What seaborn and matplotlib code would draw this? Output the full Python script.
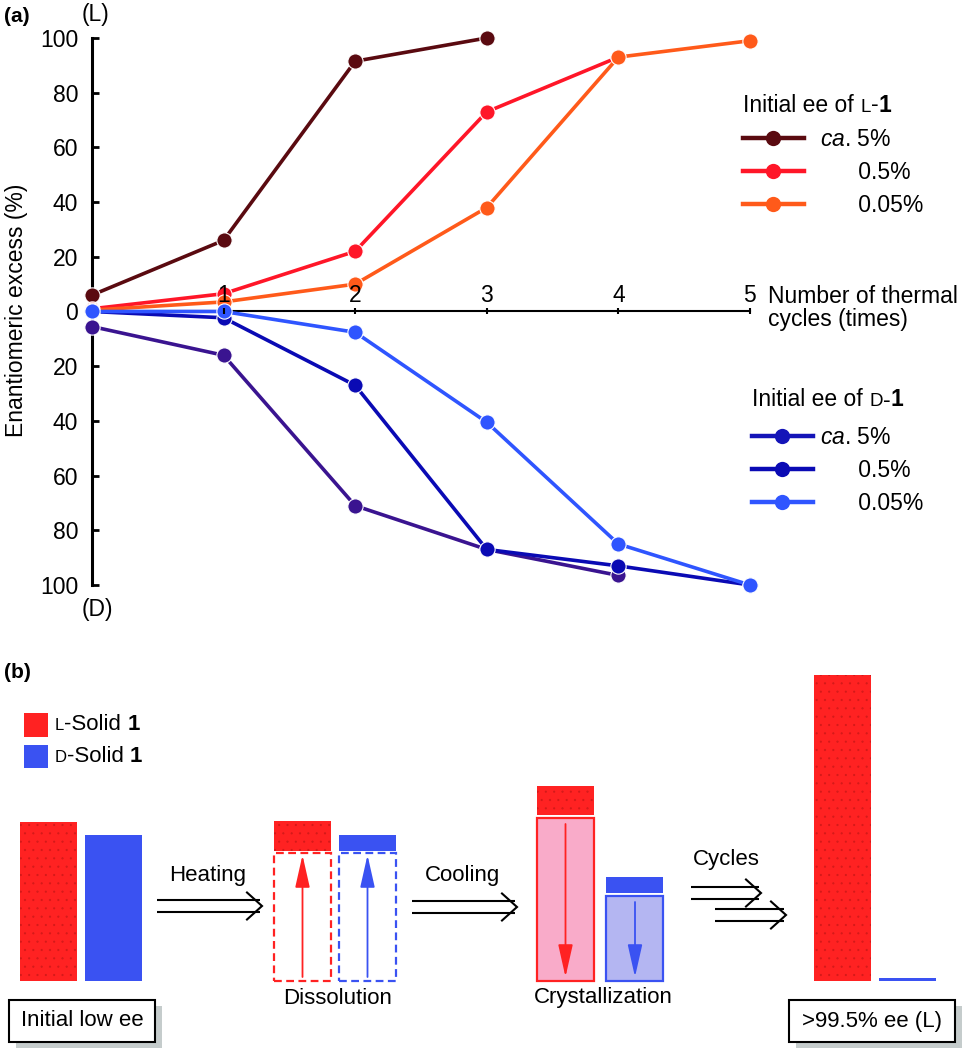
import matplotlib
matplotlib.use("Agg")
import matplotlib.pyplot as plt
import seaborn as sns
import pandas as pd
from matplotlib.lines import Line2D
from matplotlib.patches import Rectangle
from matplotlib.offsetbox import TextArea, HPacker, AnnotationBbox, DrawingArea
from matplotlib.transforms import IdentityTransform

# ---------------- data: panel (a) ----------------
cycles = [0, 1, 2, 3, 4, 5]
ee_L_ca5 = [6, 26, 91.5, 100]
ee_L_05 = [1, 6.5, 22, 73, 93]
ee_L_005 = [0.5, 3.5, 10, 38, 93, 99]
ee_D_ca5 = [-5.5, -16, -71, -87, -96.5]
ee_D_05 = [0, -2.3, -27, -87, -93, -100]
ee_D_005 = [0, 0, -7.6, -40.5, -85, -100]
series_names = ["L ca. 5%", "L 0.5%", "L 0.05%", "D ca. 5%", "D 0.5%", "D 0.05%"]
series_values = [ee_L_ca5, ee_L_05, ee_L_005, ee_D_ca5, ee_D_05, ee_D_005]
x_ticks = [1, 2, 3, 4, 5]
y_ticks = [-100, -80, -60, -40, -20, 0, 20, 40, 60, 80, 100]
y_tick_labels = ["100", "80", "60", "40", "20", "0", "20", "40", "60", "80", "100"]
legend_labels = [r"$\mathit{ca}$. 5%", "      0.5%", "      0.05%"]

# ---------------- data: panel (b) schematic amounts (L, D) ----------------
solid_initial = [159, 146]
solid_after_heating = [30, 16]
dissolved = [128, 128]
crystallized = [163, 85]
solid_after_cooling = [29, 16]
solid_final = [306, 3]

# ---------------- styles ----------------
plt.rcParams["font.family"] = ["Liberation Sans", "DejaVu Sans"]
plt.rcParams["mathtext.fontset"] = "custom"
plt.rcParams["mathtext.rm"] = "Liberation Sans"
plt.rcParams["mathtext.it"] = "Liberation Sans:italic"
plt.rcParams["mathtext.bf"] = "Liberation Sans:bold"
plt.rcParams["hatch.linewidth"] = 0.4

plot_colors = {
    "L ca. 5%": "#5a0a10",
    "L 0.5%": "#ff1628",
    "L 0.05%": "#ff5a1a",
    "D ca. 5%": "#3a1490",
    "D 0.5%": "#0a0ab4",
    "D 0.05%": "#2f55ff",
}
legend_colors_L = ["#5a0a10", "#ff1628", "#ff5a1a"]
legend_colors_D = ["#1414b8", "#0a0ab4", "#2f55ff"]

RED = "#ff2222"
BLUE = "#3a52f2"
PINK = "#f9abc9"
LAV = "#b4b6f2"

FS = 16.5

fig = plt.figure(figsize=(9.7, 10.52), dpi=100)
fig.patch.set_facecolor("white")

df = pd.concat(
    [pd.DataFrame({"series": n, "cycle": cycles[: len(v)], "ee": v})
     for n, v in zip(series_names, series_values)],
    ignore_index=True,
)

# ---------------- panel (a) ----------------
ax = fig.add_axes([65.68 / 970, 1 - 595.94 / 1052, 710.6 / 970, 568.9 / 1052])
ax.set_facecolor("none")
for i, name in enumerate(series_names):
    sub = df[df["series"] == name]
    sns.lineplot(data=sub, x="cycle", y="ee", ax=ax, color=plot_colors[name],
                 marker="o", markersize=11, linewidth=2.6,
                 markeredgecolor="white", markeredgewidth=0.8,
                 clip_on=False, zorder=3 + i, legend=False,
                 estimator=None, sort=False)

ax.set_xlim(-0.2, 5.2)
ax.set_ylim(-104, 104)
for s in ["top", "right"]:
    ax.spines[s].set_visible(False)
ax.spines["left"].set_position(("data", 0))
ax.spines["left"].set_bounds(-100, 100)
ax.spines["left"].set_linewidth(2.2)
ax.spines["bottom"].set_position(("data", 0))
ax.spines["bottom"].set_bounds(0, 5)
ax.spines["bottom"].set_linewidth(1.5)
ax.set_xticks(x_ticks)
ax.set_xticklabels([str(t) for t in x_ticks])
ax.set_yticks(y_ticks)
ax.set_yticklabels(y_tick_labels)
ax.tick_params(axis="x", direction="inout", length=5, width=1.5, pad=-22.5,
               labelsize=FS, colors="black", bottom=True)
ax.tick_params(axis="y", direction="in", length=5, width=2, pad=10,
               labelsize=FS, colors="black", left=True)
ax.xaxis.set_zorder(20)
ax.set_ylabel("")
ax.set_xlabel("Number of thermal\ncycles (times)", fontsize=FS, ha="left",
              va="center", linespacing=0.95, color="black")
ax.xaxis.set_label_coords((768 - 65.68) / 710.6, (595.94 - 308) / 568.9)

fig.text(17 / 970, 1 - 310 / 1052, "Enantiomeric excess (%)", rotation=90,
         ha="center", va="center", fontsize=FS, color="black")
fig.text(4 / 970, 1 - 17 / 1052, "(a)", fontsize=15, fontweight="bold",
         ha="left", va="center")
ax.text(0.03, 108.5, "(L)", ha="center", va="center", fontsize=FS, clip_on=False)
ax.text(0.04, -109, "(D)", ha="center", va="center", fontsize=FS, clip_on=False)


def mixed_text(parts, xy, xycoords, artist_parent):
    children = []
    for p in parts:
        if isinstance(p, (int, float)):
            children.append(DrawingArea(p, 1, 0, 0))
        else:
            s, fs, w = p
            children.append(TextArea(s, textprops=dict(fontsize=fs, fontweight=w,
                                                        color="black")))
    box = HPacker(children=children, align="baseline", pad=0, sep=0)
    ab = AnnotationBbox(box, xy, xycoords=xycoords, box_alignment=(0, 0.5),
                        frameon=False, pad=0, annotation_clip=False)
    artist_parent.add_artist(ab)
    return ab


# legends
def make_handles(colors):
    return [Line2D([], [], color=c, lw=3.2, marker="o", markersize=11,
                   markeredgewidth=0) for c in colors]


leg1 = ax.legend(handles=make_handles(legend_colors_L), labels=legend_labels,
                 loc="center left", bbox_to_anchor=(743, 1052 - 172.5),
                 bbox_transform=IdentityTransform(), frameon=False,
                 borderpad=0, borderaxespad=0, handlelength=2.66,
                 handletextpad=0.7, labelspacing=0.42, fontsize=FS)
ax.add_artist(leg1)
leg2 = ax.legend(handles=make_handles(legend_colors_D), labels=legend_labels,
                 loc="center left", bbox_to_anchor=(752, 1052 - 470.5),
                 bbox_transform=IdentityTransform(), frameon=False,
                 borderpad=0, borderaxespad=0, handlelength=2.66,
                 handletextpad=0.3, labelspacing=0.42, fontsize=FS)

mixed_text([("Initial ee of", FS, "normal"), 4.6, ("L", 13.5, "normal"),
            ("-", FS, "normal"), ("1", FS, "bold")],
           (743, 1052 - 105), "figure pixels", fig)
mixed_text([("Initial ee of", FS, "normal"), 4.6, ("D", 13.5, "normal"),
            ("-", FS, "normal"), ("1", FS, "bold")],
           (752, 1052 - 400), "figure pixels", fig)

# ---------------- panel (b) ----------------
axb = fig.add_axes([0, 0, 1, 412 / 1052])
axb.set_xlim(0, 970)
axb.set_ylim(-71, 341)
axb.axis("off")
FSB = 16

W = 57
x_initial = [48.5, 113.5]
x_diss = [302.5, 367.5]
x_cryst = [565.5, 635]
x_final = [842.5, 907.5]
GAP = 2


def textured(xs, heights, bottoms=None):
    # faint speckle texture of the red solid
    axb.bar(xs[0], heights[0], width=W, bottom=0 if bottoms is None else bottoms[0],
            fill=False, hatch="..", edgecolor=(0.35, 0.0, 0.0, 0.2), linewidth=0,
            zorder=2.5)


# initial
axb.bar(x_initial, solid_initial, width=W, color=[RED, BLUE], linewidth=0, zorder=2)
textured(x_initial, solid_initial)

# dissolution
axb.bar(x_diss, dissolved, width=W, fill=False, edgecolor=[RED, BLUE],
        linestyle=(0, (3.5, 2)), linewidth=1.6, zorder=2)
bott = [d + GAP for d in dissolved]
axb.bar(x_diss, solid_after_heating, width=W, bottom=bott, color=[RED, BLUE],
        linewidth=0, zorder=2)
textured(x_diss, solid_after_heating, bott)
for x, d, c in zip(x_diss, dissolved, [RED, BLUE]):
    axb.annotate("", xy=(x, d - 2), xytext=(x, 4),
                 arrowprops=dict(arrowstyle="-|>,head_length=2.0,head_width=0.45",
                                 mutation_scale=10, color=c, lw=1.3,
                                 shrinkA=0, shrinkB=0), zorder=3)

# crystallization
axb.bar(x_cryst, crystallized, width=W, color=[PINK, LAV], edgecolor=[RED, BLUE],
        linewidth=1.6, zorder=2)
bott = [d + GAP + 1 for d in crystallized]
axb.bar(x_cryst, solid_after_cooling, width=W, bottom=bott, color=[RED, BLUE],
        linewidth=0, zorder=2)
textured(x_cryst, solid_after_cooling, bott)
for x, d, c in zip(x_cryst, crystallized, [RED, BLUE]):
    axb.annotate("", xy=(x, 4), xytext=(x, d - 6),
                 arrowprops=dict(arrowstyle="-|>,head_length=2.0,head_width=0.45",
                                 mutation_scale=10, color=c, lw=1.3,
                                 shrinkA=0, shrinkB=0), zorder=3)

# final
axb.bar(x_final, solid_final, width=W, color=[RED, BLUE], linewidth=0, zorder=2)
textured(x_final, solid_final)


def double_arrow(x0, x1, yc):
    for dy in (6, -6):
        axb.plot([x0, x1 - 2], [yc + dy, yc + dy], color="black", lw=1.5,
                 solid_capstyle="butt")
    axb.plot([x1 - 15, x1, x1 - 15], [yc + 13.5, yc, yc - 13.5], color="black",
             lw=1.5, solid_joinstyle="miter")


double_arrow(157, 262, 75)
double_arrow(412, 517, 74)
double_arrow(691, 761, 88)
double_arrow(715, 786, 66)

axb.text(208, 106, "Heating", ha="center", va="center", fontsize=FSB)
axb.text(463, 106, "Cooling", ha="center", va="center", fontsize=FSB)
axb.text(726, 121, "Cycles", ha="center", va="center", fontsize=FSB)
axb.text(338, -17, "Dissolution", ha="center", va="center", fontsize=FSB)
axb.text(603, -17, "Crystallization", ha="center", va="center", fontsize=FSB)
axb.text(4, 308, "(b)", ha="left", va="center", fontsize=15, fontweight="bold")

# legend squares
axb.add_patch(Rectangle((24, 244), 24, 24, color=RED, lw=0))
axb.add_patch(Rectangle((24, 213), 24, 23, color=BLUE, lw=0))
mixed_text([("L", 12, "normal"), ("-Solid", FSB, "normal"), 4.4, ("1", FSB, "bold")],
           (55, 256), "data", axb)
mixed_text([("D", 12, "normal"), ("-Solid", FSB, "normal"), 4.4, ("1", FSB, "bold")],
           (55, 224), "data", axb)

# labelled boxes with shadow
for (bx, bw, label) in [(9, 146, "Initial low ee"), (789, 166, ">99.5% ee (L)")]:
    axb.add_patch(Rectangle((bx + 7, -67), bw, 42, facecolor="#c5cccc", lw=0, zorder=2))
    axb.add_patch(Rectangle((bx, -61), bw, 42, facecolor="white", edgecolor="black",
                            lw=1.5, zorder=3))
    axb.text(bx + bw / 2, -40, label, ha="center", va="center", fontsize=FSB, zorder=4)

fig.savefig("out.png", dpi=100)
